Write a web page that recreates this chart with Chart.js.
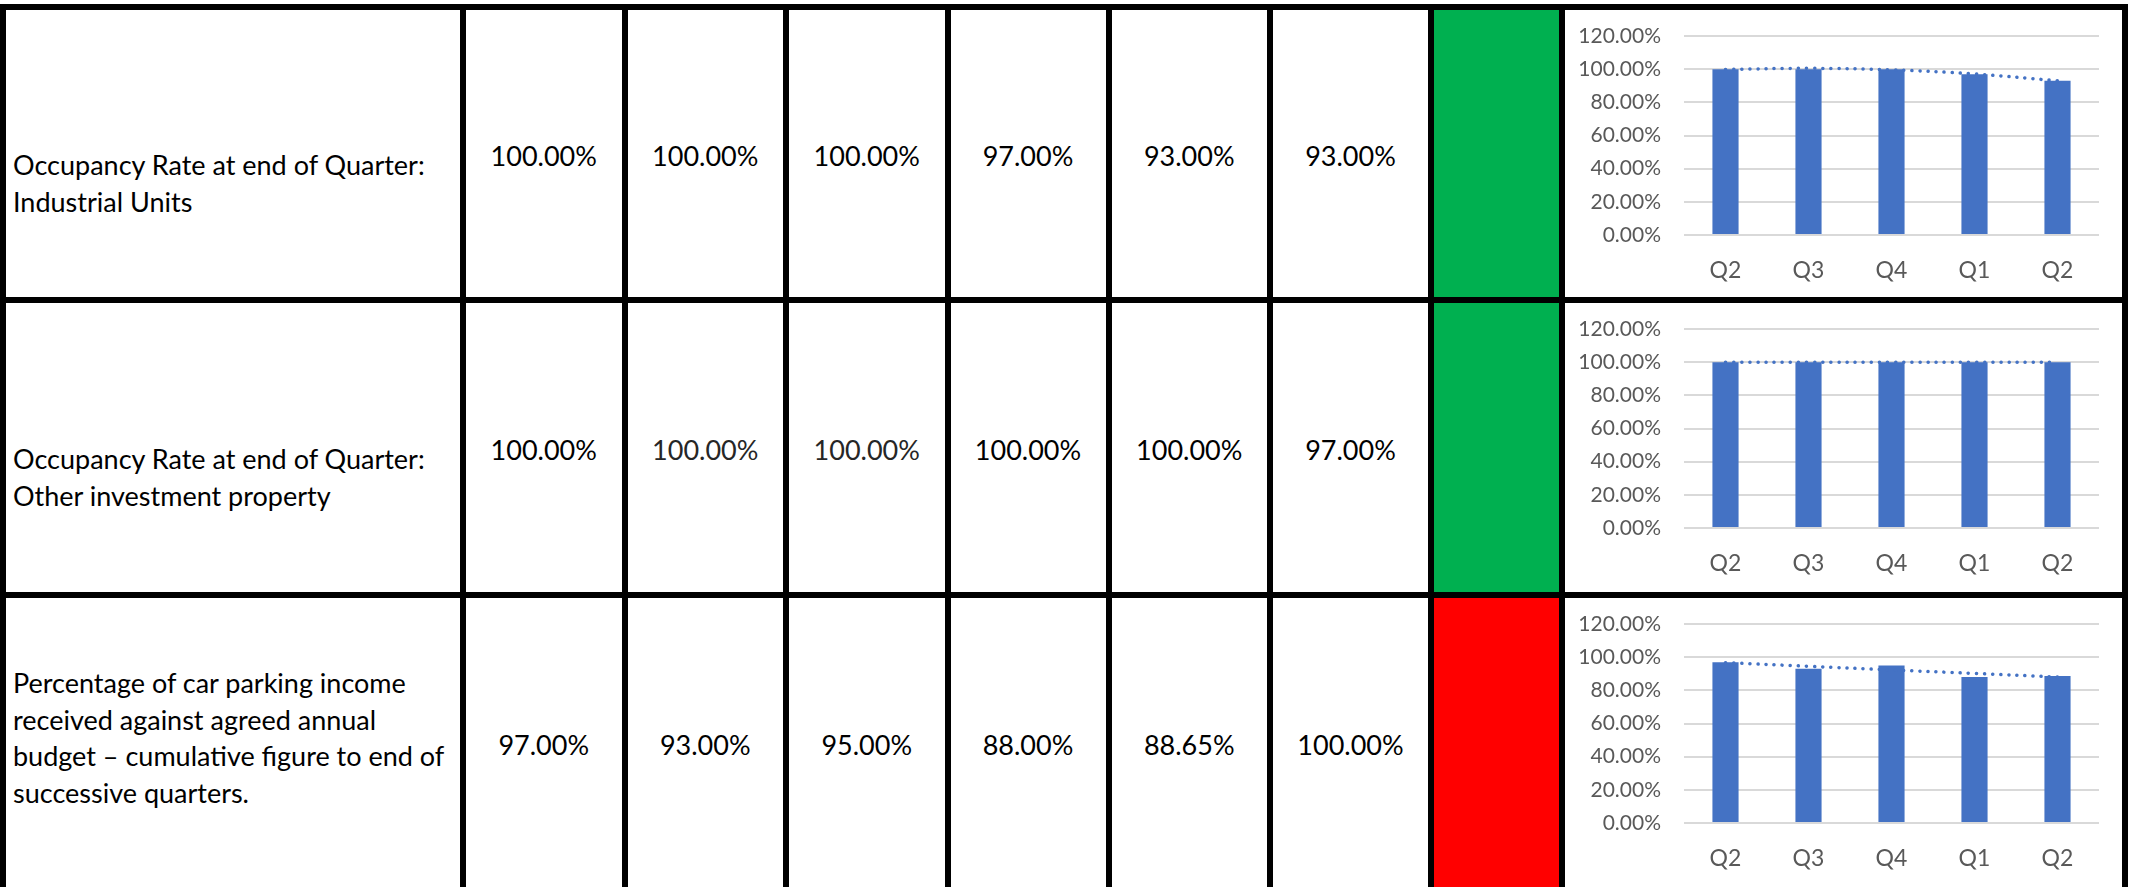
<!DOCTYPE html>
<html>
<head>
<meta charset="utf-8">
<script src="https://cdn.jsdelivr.net/npm/chart.js@4.4.1/dist/chart.umd.min.js"></script>
<style>
  html, body {
    margin: 0;
    padding: 0;
    background: #ffffff;
    width: 2129px;
    height: 887px;
    overflow: hidden;
    font-family: "Lato", "Open Sans", sans-serif;
  }
  #sheet { position: absolute; left: 0; top: 0; width: 2129px; height: 887px; }
  .rule { position: absolute; background: #000000; }
  .fill { position: absolute; }
  .label {
    position: absolute;
    font-size: 27px;
    line-height: 36.5px;
    color: #000000;
    white-space: nowrap;
  }
  .value {
    position: absolute;
    display: flex;
    align-items: center;
    justify-content: center;
    font-size: 27px;
    color: #000000;
    white-space: nowrap;
  }
  canvas { position: absolute; }
</style>
</head>
<body>
<div id="sheet"></div>
<script>
/* ---------- data ---------- */

const rowLabels = [
  ["Occupancy Rate at end of Quarter:", "Industrial Units"],
  ["Occupancy Rate at end of Quarter:", "Other investment property"],
  ["Percentage of car parking income", "received against agreed annual",
   "budget \u2013 cumulative figure to end of", "successive quarters."]
];

// quarter columns shown in the table and the chart
const quarterLabels = ["Q2", "Q3", "Q4", "Q1", "Q2"];

const industrialRates = [100, 100, 100, 97, 93];
const industrialTarget = 93;
const industrialTrend = [99.8, 100.5, 99.6, 97.1, 93.0];

const otherRates = [100, 100, 100, 100, 100];
const otherTarget = 97;
const otherTrend = [100, 100, 100, 100, 100];

const parkingRates = [97, 93, 95, 88, 88.65];
const parkingTarget = 100;
const parkingTrend = [96.7, 94.5, 92.3, 90.2, 88.0];

const statusColours = ["#00B050", "#00B050", "#FF0000"];

const yTicks = [0, 20, 40, 60, 80, 100, 120];

/* ---------- layout ---------- */

const colEdges = [3, 463, 624.5, 786, 947.5, 1108.5, 1270, 1431, 1562, 2125];
const rowEdges = [7, 300, 595, 890];
const ruleWidth = 6;
const labelTops = [147, 441, 665];

const BAR_BLUE = "#4472C4";
const AXIS_GREY = "#595959";
const GRID_GREY = "#D9D9D9";

const sheet = document.getElementById("sheet");

function addDiv(cls, left, top, width, height) {
  const d = document.createElement("div");
  d.className = cls;
  d.style.left = left + "px";
  d.style.top = top + "px";
  d.style.width = width + "px";
  d.style.height = height + "px";
  sheet.appendChild(d);
  return d;
}

const rows = [
  { rates: industrialRates, target: industrialTarget, trend: industrialTrend },
  { rates: otherRates, target: otherTarget, trend: otherTrend },
  { rates: parkingRates, target: parkingTarget, trend: parkingTrend }
];

rows.forEach(function(row, r) {
  const top = rowEdges[r];
  const bottom = rowEdges[r + 1];

  // description text
  const lbl = addDiv("label", colEdges[0] + 10, labelTops[r], 445, 150);
  lbl.innerHTML = rowLabels[r].join("<br>");

  // five quarter values + target
  const cells = row.rates.concat([row.target]);
  cells.forEach(function(v, c) {
    const cell = addDiv("value", colEdges[c + 1], top + 2, colEdges[c + 2] - colEdges[c + 1], bottom - top);
    cell.textContent = v.toFixed(2) + "%";
    if (r === 1 && (c === 1 || c === 2)) cell.style.color = "#262626";
  });

  // RAG status cell
  const fill = addDiv("fill", colEdges[7], top, colEdges[8] - colEdges[7], bottom - top);
  fill.style.background = statusColours[r];
});

// grid rules on top of the fills
colEdges.forEach(function(x) {
  addDiv("rule", x - ruleWidth / 2, rowEdges[0] - ruleWidth / 2, ruleWidth, rowEdges[3] - rowEdges[0] + ruleWidth);
});
rowEdges.forEach(function(y) {
  addDiv("rule", colEdges[0] - ruleWidth / 2, y - ruleWidth / 2, colEdges[9] - colEdges[0] + ruleWidth, ruleWidth);
});

/* ---------- charts ---------- */

Chart.defaults.font.family = "Lato";

function renderTrendChart(row, r) {
  const canvas = document.createElement("canvas");
  const left = colEdges[8] + ruleWidth / 2 + 1;
  const top = rowEdges[r] + ruleWidth / 2;
  canvas.width = 555;
  canvas.height = 287;
  canvas.style.left = left + "px";
  canvas.style.top = top + "px";
  canvas.style.width = "555px";
  canvas.style.height = "287px";
  sheet.appendChild(canvas);

  new Chart(canvas, {
    type: "bar",
    data: {
      labels: quarterLabels,
      datasets: [
        {
          type: "line",
          data: row.trend,
          borderColor: BAR_BLUE,
          borderWidth: 3.5,
          borderDash: [0.1, 8],
          borderCapStyle: "round",
          pointRadius: 0,
          tension: 0.4,
          fill: false,
          order: 0
        },
        {
          data: row.rates,
          backgroundColor: BAR_BLUE,
          categoryPercentage: 1,
          barPercentage: 0.315,
          order: 1
        }
      ]
    },
    options: {
      responsive: false,
      animation: false,
      events: [],
      layout: { padding: { top: 26, right: 22, bottom: 0, left: 0 } },
      plugins: {
        legend: { display: false },
        tooltip: { enabled: false }
      },
      scales: {
        x: {
          grid: { display: false },
          border: { display: false },
          ticks: {
            color: AXIS_GREY,
            font: { size: 23 },
            padding: 14,
            maxRotation: 0
          },
          afterFit: function(scale) { scale.height = 62; }
        },
        y: {
          min: 0,
          max: 120,
          afterBuildTicks: function(scale) {
            scale.ticks = yTicks.map(function(v) { return { value: v }; });
          },
          grid: { color: GRID_GREY, lineWidth: 2, drawTicks: false },
          border: { display: false },
          ticks: {
            color: AXIS_GREY,
            font: { size: 21 },
            padding: 23,
            callback: function(value) { return value.toFixed(2) + "%"; }
          },
          afterFit: function(scale) {
            // tick padding is horizontal only here; drop the vertical overflow it adds
            scale.width = 118;
            scale.paddingTop = 0;
            scale.paddingBottom = 0;
          }
        }
      }
    }
  });
}

rows.forEach(renderTrendChart);
</script>
</body>
</html>
